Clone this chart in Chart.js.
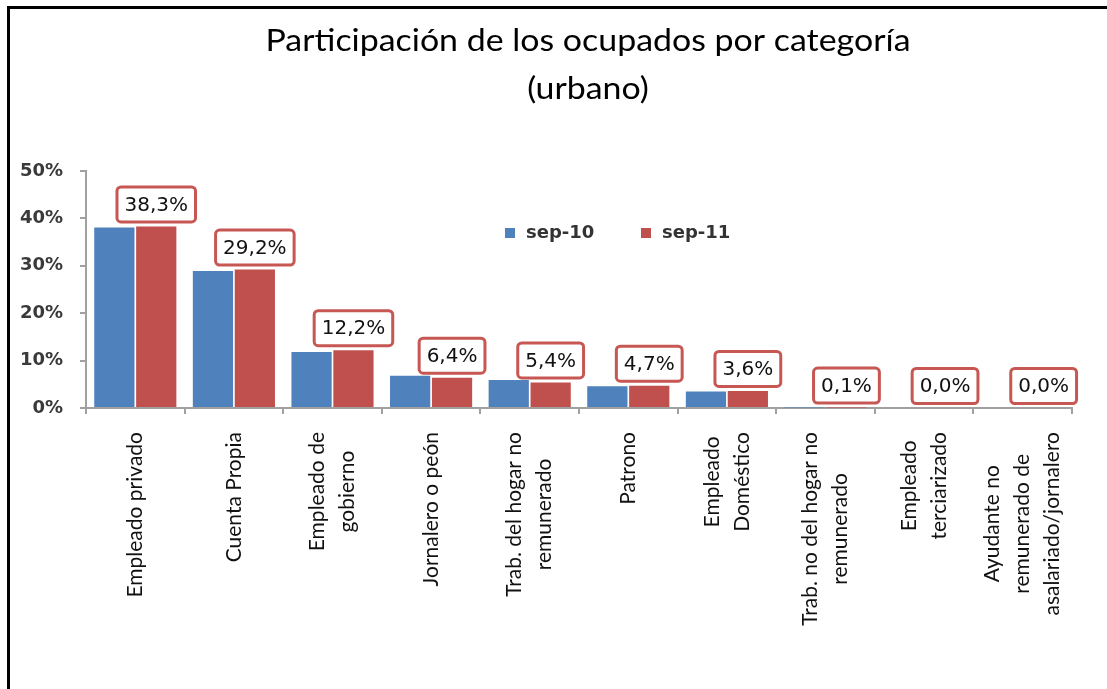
<!DOCTYPE html>
<html><head><meta charset="utf-8">
<script src="https://cdn.jsdelivr.net/npm/chart.js@4.4.1/dist/chart.umd.min.js"></script>
<style>
html,body{margin:0;padding:0;background:#fff;overflow:hidden;}
#wrap{position:relative;width:1107px;height:689px;}
#frame{position:absolute;left:7px;top:6px;right:0;bottom:0;border-left:3px solid #000;border-top:3px solid #000;pointer-events:none;}
canvas{position:absolute;left:0;top:0;}
</style></head><body>
<div id="wrap"><canvas id="c" width="1107" height="689"></canvas><div id="frame"></div></div>
<script>
const titleLines = ["Participación de los ocupados por categoría", "(urbano)"];
const categories = [
  ["Empleado privado"],
  ["Cuenta Propia"],
  ["Empleado de", "gobierno"],
  ["Jornalero o peón"],
  ["Trab. del hogar no", "remunerado"],
  ["Patrono"],
  ["Empleado", "Doméstico"],
  ["Trab. no del hogar no", "remunerado"],
  ["Empleado", "terciarizado"],
  ["Ayudante no", "remunerado de", "asalariado/jornalero"]
];
const seriesNames = ["sep-10", "sep-11"];
const sep10 = [38.1, 28.9, 11.8, 6.8, 5.9, 4.6, 3.5, 0.1, 0.0, 0.0];
const sep11 = [38.3, 29.2, 12.2, 6.4, 5.4, 4.7, 3.6, 0.1, 0.0, 0.0];
const yTickValues = [0, 10, 20, 30, 40, 50];

const BLUE = '#4F81BD', RED = '#C0504D', AXIS = '#A0A0A0';

const titleDraw = {
  id: 'titleDraw',
  afterDraw(chart) {
    const ctx = chart.ctx;
    ctx.save();
    ctx.font = '30px Lato';
    ctx.fillStyle = '#000';
    ctx.textAlign = 'center';
    ctx.textBaseline = 'alphabetic';
    const baselines = [51, 99];
    titleLines.forEach((t, i) => {
      ctx.save();
      ctx.translate(588, baselines[i]);
      ctx.scale(1.13, 1);
      ctx.fillText(t, 0, 0);
      ctx.restore();
    });
    ctx.restore();
  }
};

const labelBoxes = {
  id: 'labelBoxes',
  afterDatasetsDraw(chart) {
    const ctx = chart.ctx;
    const meta = chart.getDatasetMeta(1);
    ctx.save();
    ctx.font = '20px "DejaVu Sans"';
    ctx.textAlign = 'center';
    ctx.textBaseline = 'middle';
    meta.data.forEach((bar, i) => {
      const txt = sep11[i].toFixed(1).replace('.', ',') + '%';
      const tw = ctx.measureText(txt).width;
      const w = tw + 18, h = 38;
      const x0 = bar.x - w / 2, y1 = bar.y - 3, y0 = y1 - h;
      ctx.fillStyle = '#fff';
      ctx.strokeStyle = '#C65753';
      ctx.lineWidth = 3;
      ctx.beginPath();
      ctx.roundRect(x0 + 1.5, y0 + 1.5, w - 3, h - 3, 4);
      ctx.fill();
      ctx.stroke();
      ctx.fillStyle = '#111';
      ctx.fillText(txt, bar.x, y0 + h / 2 + 1);
    });
    ctx.restore();
  }
};

const customLegend = {
  id: 'customLegend',
  afterDraw(chart) {
    const ctx = chart.ctx;
    ctx.save();
    ctx.font = 'bold 18px "DejaVu Sans"';
    ctx.textBaseline = 'middle';
    ctx.textAlign = 'left';
    const items = [[505, BLUE, seriesNames[0]], [641, RED, seriesNames[1]]];
    items.forEach(([x, col, name]) => {
      ctx.fillStyle = col;
      ctx.fillRect(x, 228, 10, 10);
      ctx.fillStyle = '#333';
      ctx.fillText(name, x + 21, 233);
    });
    ctx.restore();
  }
};

const xLabels = {
  id: 'xLabels',
  afterDraw(chart) {
    const ctx = chart.ctx;
    const xs = chart.scales.x;
    const top = chart.chartArea.bottom + 24;
    ctx.save();
    ctx.font = '21px Lato';
    ctx.fillStyle = '#111';
    ctx.textAlign = 'center';
    ctx.textBaseline = 'middle';
    categories.forEach((lines, i) => {
      const cx = xs.getPixelForValue(i);
      const maxLen = Math.max(...lines.map(l => ctx.measureText(l).width));
      const cy = top + maxLen / 2;
      const n = lines.length;
      lines.forEach((l, j) => {
        const ox = cx + (j - (n - 1) / 2) * 30;
        ctx.save();
        ctx.translate(ox, cy);
        ctx.rotate(-Math.PI / 2);
        ctx.fillText(l, 0, 0);
        ctx.restore();
      });
    });
    ctx.restore();
  }
};

new Chart(document.getElementById('c'), {
  type: 'bar',
  data: {
    labels: categories,
    datasets: [
      { label: seriesNames[0], data: sep10, backgroundColor: BLUE, barPercentage: 0.96, categoryPercentage: 0.85 },
      { label: seriesNames[1], data: sep11, backgroundColor: RED, barPercentage: 0.96, categoryPercentage: 0.85 }
    ]
  },
  options: {
    responsive: false,
    animation: false,
    devicePixelRatio: 1,
    layout: { padding: { left: 0, right: 35, top: 171, bottom: 0 } },
    plugins: {
      legend: { display: false },
      tooltip: { enabled: false },
      title: { display: false }
    },
    scales: {
      x: {
        grid: { display: true, drawOnChartArea: false, drawTicks: true, tickLength: 6, color: AXIS, lineWidth: 2, offset: true },
        border: { display: true, color: AXIS, width: 2 },
        ticks: { display: false },
        afterFit(s) { s.height = 281; }
      },
      y: {
        min: 0, max: 50,
        afterBuildTicks(s) { s.ticks = yTickValues.map(v => ({ value: v })); },
        ticks: {
          callback: v => v + '%',
          font: { family: 'DejaVu Sans', size: 18, weight: 'bold' },
          color: '#3a3a3a',
          padding: 17
        },
        grid: { drawOnChartArea: false, drawTicks: true, tickLength: 6, color: AXIS, lineWidth: 2 },
        border: { display: true, color: AXIS, width: 2 },
        afterFit(s) { s.width = 86; }
      }
    }
  },
  plugins: [labelBoxes, customLegend, xLabels, titleDraw]
});
</script>
</body></html>
